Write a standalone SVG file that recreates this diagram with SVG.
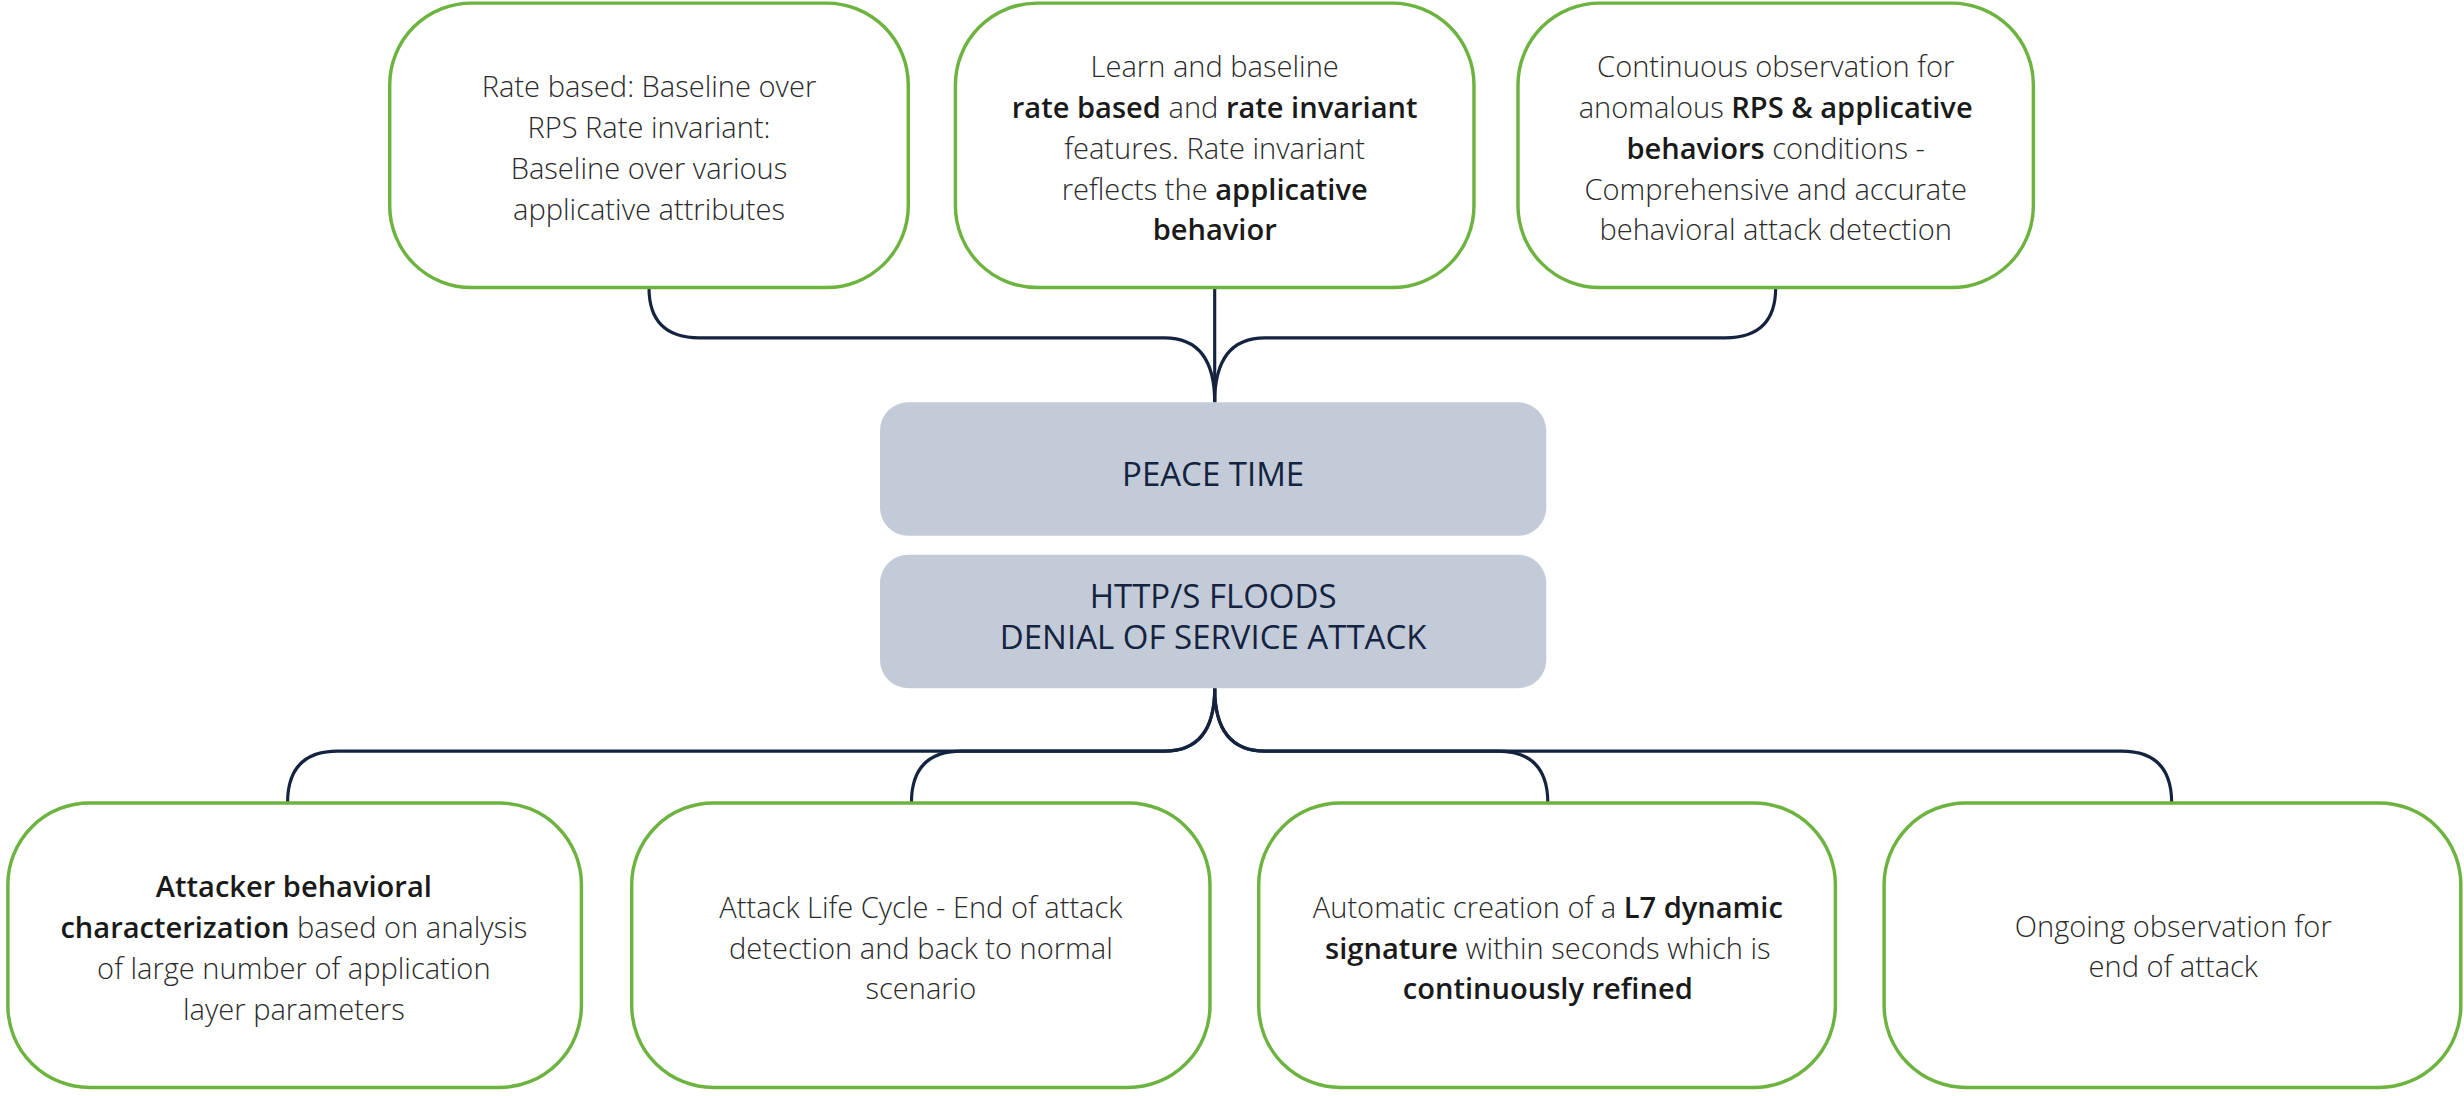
<svg xmlns="http://www.w3.org/2000/svg" width="2464" height="1096" viewBox="0 0 2464 1096">
<style>
.g{fill:#fff;stroke:#6db33f;stroke-width:2.2}
.c{fill:#c3cbd8}
.t{font-family:"Open Sans","Liberation Sans",sans-serif;font-size:18.5px;fill:#2a2a2a;text-anchor:middle;font-weight:300}
.b{font-weight:600;fill:#1a1a1a}
.h{font-family:"Open Sans","Liberation Sans",sans-serif;font-size:21px;fill:#14233f;text-anchor:middle}
.l{fill:none;stroke:#14233f;stroke-width:2}
</style>
<rect width="2464" height="1096" fill="#fff"/>
<g transform="scale(1.5714)">
<g id="connectors">
<path class="l" d="M413,183 Q413,215 445,215 L741,215 Q773,215 773,256"/>
<path class="l" d="M773,183 L773,256"/>
<path class="l" d="M1130,183 Q1130,215 1098,215 L805,215 Q773,215 773,256"/>
<path class="l" d="M773,438 Q773,478 741,478 L215,478 Q183,478 183,511"/>
<path class="l" d="M773,438 Q773,478 741,478 L612,478 Q580,478 580,511"/>
<path class="l" d="M773,438 Q773,478 805,478 L953,478 Q985,478 985,511"/>
<path class="l" d="M773,438 Q773,478 805,478 L1350,478 Q1382,478 1382,511"/>
</g>
<g id="n1"><rect class="g" x="248" y="2" width="330" height="181" rx="52"/>
<text class="t" y="62"><tspan x="413">Rate based: Baseline over</tspan><tspan x="413" dy="26">RPS Rate invariant:</tspan><tspan x="413" dy="26">Baseline over various</tspan><tspan x="413" dy="26">applicative attributes</tspan></text></g>
<g id="n2"><rect class="g" x="608" y="2" width="330" height="181" rx="52"/>
<text class="t" y="49"><tspan x="773">Learn and baseline</tspan><tspan x="773" dy="26"><tspan class="b">rate based</tspan> and <tspan class="b">rate invariant</tspan></tspan><tspan x="773" dy="26">features. Rate invariant</tspan><tspan x="773" dy="26">reflects the <tspan class="b">applicative</tspan></tspan><tspan x="773" dy="26" class="b">behavior</tspan></text></g>
<g id="n3"><rect class="g" x="966" y="2" width="328" height="181" rx="52"/>
<text class="t" y="49"><tspan x="1130">Continuous observation for</tspan><tspan x="1130" dy="26">anomalous <tspan class="b">RPS &amp; applicative</tspan></tspan><tspan x="1130" dy="26"><tspan class="b">behaviors</tspan> conditions -</tspan><tspan x="1130" dy="26">Comprehensive and accurate</tspan><tspan x="1130" dy="26">behavioral attack detection</tspan></text></g>
<g id="peace"><rect class="c" x="560" y="256" width="424" height="85" rx="18"/>
<text class="h" x="772" y="309">PEACE TIME</text></g>
<g id="attack"><rect class="c" x="560" y="353" width="424" height="85" rx="18"/>
<text class="h" y="387"><tspan x="772">HTTP/S FLOODS</tspan><tspan x="772" dy="26">DENIAL OF SERVICE ATTACK</tspan></text></g>
<g id="b1"><rect class="g" x="5" y="511" width="365" height="181" rx="52"/>
<text class="t" y="571"><tspan x="187" class="b">Attacker behavioral</tspan><tspan x="187" dy="26"><tspan class="b">characterization</tspan> based on analysis</tspan><tspan x="187" dy="26">of large number of application</tspan><tspan x="187" dy="26">layer parameters</tspan></text></g>
<g id="b2"><rect class="g" x="402" y="511" width="368" height="181" rx="52"/>
<text class="t" y="584"><tspan x="586">Attack Life Cycle - End of attack</tspan><tspan x="586" dy="26">detection and back to normal</tspan><tspan x="586" dy="26">scenario</tspan></text></g>
<g id="b3"><rect class="g" x="801" y="511" width="367" height="181" rx="52"/>
<text class="t" y="584"><tspan x="985">Automatic creation of a <tspan class="b">L7 dynamic</tspan></tspan><tspan x="985" dy="26"><tspan class="b">signature</tspan> within seconds which is</tspan><tspan x="985" dy="26" class="b">continuously refined</tspan></text></g>
<g id="b4"><rect class="g" x="1199" y="511" width="367" height="181" rx="52"/>
<text class="t" y="596"><tspan x="1383">Ongoing observation for</tspan><tspan x="1383" dy="26">end of attack</tspan></text></g>
</g>
</svg>
